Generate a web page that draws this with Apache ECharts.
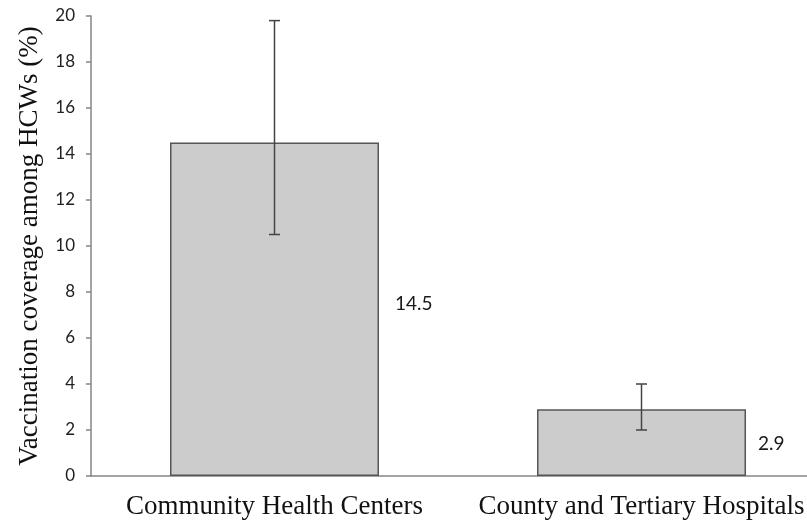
<!DOCTYPE html>
<html>
<head>
<meta charset="utf-8">
<script src="https://cdn.jsdelivr.net/npm/echarts@6/dist/echarts.min.js"></script>
<style>
  html, body { margin: 0; padding: 0; background: #fff; }
  #chart { width: 807px; height: 527px; }
</style>
</head>
<body>
<div id="chart"></div>
<script>
// Vaccination coverage among health care workers, by facility type
const categories = ['Community Health Centers', 'County and Tertiary Hospitals'];
const coverage = [14.5, 2.9];
const errorLow = [10.5, 2.0];
const errorHigh = [19.8, 4.0];
const yTicks = [0, 2, 4, 6, 8, 10, 12, 14, 16, 18, 20];

const chart = echarts.init(document.getElementById('chart'));

const axisGray = '#858585';
const serif = '"Liberation Serif", "Times New Roman", serif';
const sans = 'Lato, "Open Sans", sans-serif';

// value labels sit beside each bar; nudged individually
const labelPlacement = [
  { distance: 16, offset: [0, -5] },
  { distance: 12, offset: [0, 1] }
];

chart.setOption({
  animation: false,
  backgroundColor: '#ffffff',
  grid: { left: 91, top: 16, bottom: 51, width: 734, outerBoundsMode: 'none', containLabel: false },
  xAxis: {
    type: 'category',
    data: categories,
    axisLine: { lineStyle: { color: axisGray, width: 1.5 } },
    axisTick: { show: false },
    axisLabel: { color: '#111', fontFamily: serif, fontSize: 27, margin: 17, interval: 0, hideOverlap: false }
  },
  yAxis: {
    type: 'value',
    min: yTicks[0],
    max: yTicks[yTicks.length - 1],
    interval: 2,
    name: 'Vaccination coverage among HCWs (%)',
    nameLocation: 'middle',
    nameGap: 48,
    nameTextStyle: { color: '#111', fontFamily: serif, fontSize: 27 },
    axisLine: { show: true, lineStyle: { color: axisGray, width: 1.5 } },
    axisTick: { show: true, inside: false, length: 5, lineStyle: { color: axisGray, width: 1.5 } },
    splitLine: { show: false },
    axisLabel: { color: '#222', fontFamily: sans, fontSize: 17, margin: 16 }
  },
  series: [
    {
      type: 'bar',
      data: coverage.map((v, i) => ({
        value: v,
        label: { distance: labelPlacement[i].distance, offset: labelPlacement[i].offset }
      })),
      barWidth: 209,
      itemStyle: { color: '#cccccc', borderColor: '#555555', borderWidth: 1.5 },
      label: {
        show: true,
        position: 'right',
        color: '#1a1a1a',
        fontFamily: sans,
        fontSize: 19,
        formatter: p => p.value.toFixed(1)
      },
      z: 2
    },
    {
      type: 'custom',
      data: categories.map((c, i) => [i, errorLow[i], errorHigh[i]]),
      z: 5,
      renderItem: (params, api) => {
        const x = api.value(0);
        const lo = api.coord([x, api.value(1)]);
        const hi = api.coord([x, api.value(2)]);
        const cap = 5.5;
        const style = { stroke: '#444444', lineWidth: 1.5 };
        return {
          type: 'group',
          children: [
            { type: 'line', shape: { x1: lo[0], y1: lo[1], x2: hi[0], y2: hi[1] }, style },
            { type: 'line', shape: { x1: lo[0] - cap, y1: lo[1], x2: lo[0] + cap, y2: lo[1] }, style },
            { type: 'line', shape: { x1: hi[0] - cap, y1: hi[1], x2: hi[0] + cap, y2: hi[1] }, style }
          ]
        };
      }
    }
  ]
});
</script>
</body>
</html>
